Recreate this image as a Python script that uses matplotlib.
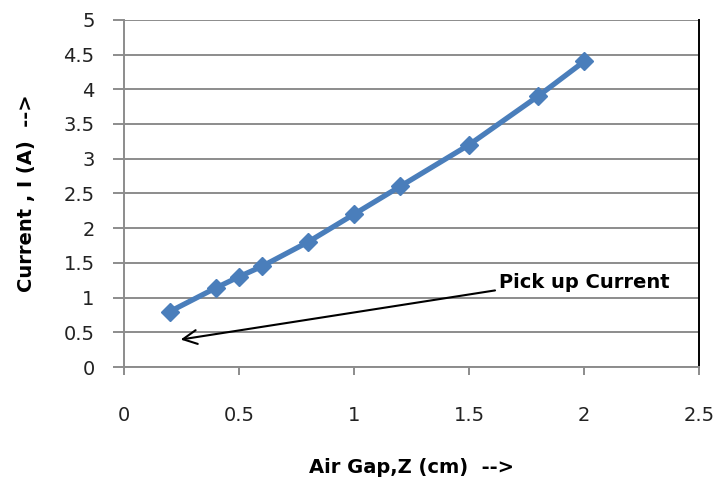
import matplotlib
matplotlib.use("Agg")
import matplotlib.pyplot as plt

# air gap (cm) vs pick up current (A)
air_gap = [0.2, 0.4, 0.5, 0.6, 0.8, 1.0, 1.2, 1.5, 1.8, 2.0]
current = [0.8, 1.14, 1.3, 1.45, 1.8, 2.2, 2.6, 3.2, 3.9, 4.4]

x_ticks = [0, 0.5, 1, 1.5, 2, 2.5]
x_tick_labels = ["0", "0.5", "1", "1.5", "2", "2.5"]
y_ticks = [0, 0.5, 1, 1.5, 2, 2.5, 3, 3.5, 4, 4.5, 5]
y_tick_labels = ["0", "0.5", "1", "1.5", "2", "2.5", "3", "3.5", "4", "4.5", "5"]

plt.rcParams["font.family"] = ["DejaVu Sans"]

fig = plt.figure(figsize=(7.2, 4.83), dpi=100)
ax = fig.add_axes([0.172, 0.240, 0.799, 0.719])

ax.plot(air_gap, current, "-D", color="#4a7ebb", linewidth=3.8,
        markersize=9, markeredgecolor="#4a7ebb")

ax.set_xlim(0, 2.5)
ax.set_ylim(0, 5)
ax.set_xticks(x_ticks)
ax.set_xticklabels(x_tick_labels)
ax.set_yticks(y_ticks)
ax.set_yticklabels(y_tick_labels)

ax.grid(True, axis="y", color="#8c8c8c", linewidth=1.4)
ax.set_axisbelow(True)

for side in ["left", "bottom"]:
    ax.spines[side].set_color("#8c8c8c")
    ax.spines[side].set_linewidth(1.4)
ax.spines["top"].set_visible(False)
ax.spines["right"].set_color("black")
ax.spines["right"].set_linewidth(1.4)

ax.tick_params(axis="y", direction="out", length=8, width=1.4, color="#8c8c8c",
               labelsize=14, pad=13, labelcolor="#222222")
ax.tick_params(axis="x", direction="out", length=6, width=1.4, color="#8c8c8c",
               labelsize=14, pad=22, labelcolor="#222222")

ax.set_xlabel("Air Gap,Z (cm)  -->", fontsize=14, fontweight="bold", labelpad=24)
ax.set_ylabel("Current , I (A)  -->", fontsize=14, fontweight="bold", labelpad=20)

ax.annotate("", xy=(0.235, 0.39), xytext=(1.625, 1.11),
            arrowprops=dict(arrowstyle="->", color="black", lw=1.5,
                            mutation_scale=25))
ax.text(1.63, 1.22, "Pick up Current", fontsize=14, fontweight="bold",
        ha="left", va="center")

fig.savefig("out.png", dpi=100)
